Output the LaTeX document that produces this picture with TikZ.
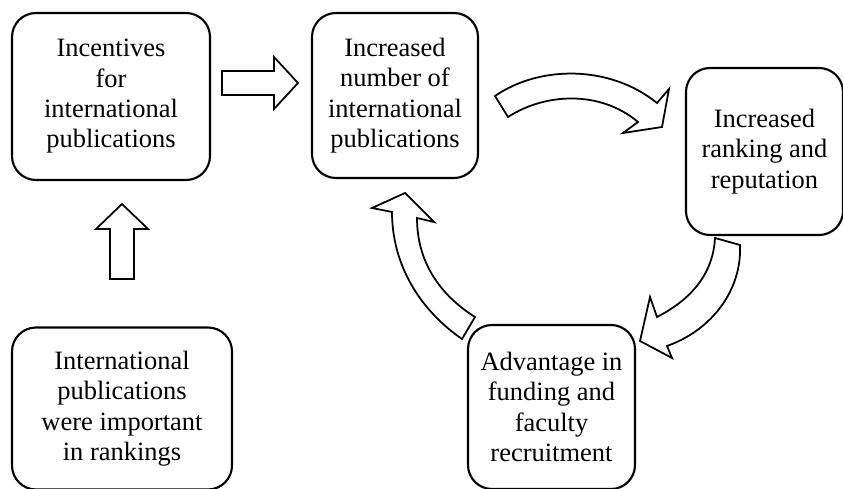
\documentclass[tikz,border=0pt]{standalone}
\usepackage{fontspec}
\setmainfont{Liberation Serif}
\usepackage{tikz}
\usetikzlibrary{positioning,calc}

\begin{document}
\begin{tikzpicture}[x=0.03cm,y=-0.03cm,
      b/.style={draw=black,fill=white,line width=1.8pt,rounded corners=0.72cm,
                inner sep=0pt,align=center,
                font=\fontsize{22.6}{25.9}\selectfont},
      a/.style={draw=black,fill=white,line width=1.5pt,line join=miter}]
      \useasboundingbox (0,0) rectangle (843,489);
      \node[b,minimum width=5.94cm,minimum height=5.01cm] (inc) at (111,96.5)
        {Incentives\\for\\international\\publications};
      \node[b,minimum width=4.98cm,minimum height=4.95cm] (num) at (395,95.5)
        {Increased\\number of\\international\\publications};
      \node[b,minimum width=4.71cm,minimum height=5.01cm] (rank) at (764.5,151.5)
        {Increased\\ranking and\\reputation};
      \node[b,minimum width=5.01cm,minimum height=4.92cm] (adv) at (551.5,407)
        {Advantage in\\funding and\\faculty\\recruitment};
      \node[b,minimum width=6.6cm,minimum height=4.86cm] (imp) at (122,408.5)
        {International\\publications\\were important\\in rankings};
      % block arrows
      \draw[a] (222,71) -- (274,71) -- (274,57) -- (298,83) -- (274,109)
        -- (274,95) -- (222,95) -- cycle;
      \draw[a] (110,279) -- (110,229) -- (96,229) -- (122,204) -- (148,229)
        -- (134,229) -- (134,279) -- cycle;
      \draw[a] (495,96) .. controls (540,65) and (610,65) .. (657,103)
        -- (669,89) -- (662,127) -- (623,133) -- (638,122)
        .. controls (600,90) and (545,93) .. (508,117) -- cycle;
      \draw[a] (715,238) -- (740,245) .. controls (742,290) and (712,330) .. (667,346)
        -- (672,358) -- (640,341) -- (650,297) -- (657,317)
        .. controls (690,300) and (713,275) .. (715,238) -- cycle;
      \draw[a] (475,317) -- (462,339) .. controls (420,310) and (392,265) .. (392,212)
        -- (372,208) -- (405,193) -- (434,222) -- (417,218)
        .. controls (417,262) and (440,295) .. (475,317) -- cycle;
    \end{tikzpicture}
\end{document}
